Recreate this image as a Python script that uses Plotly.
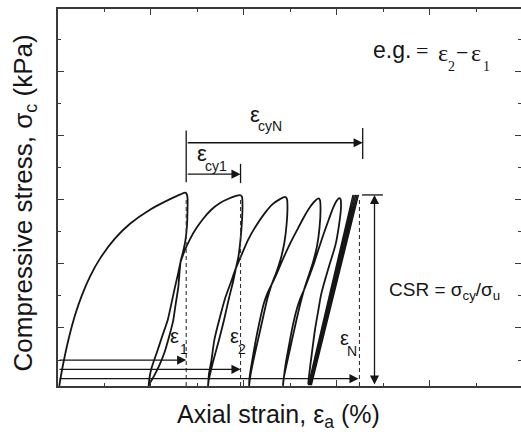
import plotly.graph_objects as go

# ---------------- cyclic test record (axial strain %, compressive stress kPa) ----------------
load_strain = [0.014, 0.032, 0.057, 0.111, 0.183, 0.258, 0.344, 0.452, 0.614, 0.775, 0.990, 1.206, 1.320, 1.372]
load_stress = [0.0, 3.2, 7.1, 14.3, 22.1, 28.4, 34.2, 39.8, 46.1, 50.7, 55.1, 58.4, 59.9, 60.4]

unload1_strain = [1.388, 1.395, 1.394, 1.389, 1.372, 1.346, 1.319, 1.295, 1.265, 1.241, 1.195, 1.144, 1.087, 1.033, 0.996, 0.974]
unload1_stress = [59.8, 58.3, 55.0, 50.3, 45.6, 41.9, 38.7, 30.9, 25.3, 20.6, 15.3, 10.3, 6.2, 3.1, 1.2, 0.0]
reload1_strain = [0.985, 1.001, 1.028, 1.062, 1.119, 1.181, 1.222, 1.259, 1.292, 1.319, 1.367, 1.421, 1.485, 1.561, 1.647, 1.744, 1.841, 1.916, 1.964]
reload1_stress = [2.5, 5.0, 7.5, 10.3, 15.3, 20.6, 25.9, 30.9, 35.0, 38.7, 42.5, 45.9, 49.1, 52.2, 55.0, 57.2, 58.6, 59.4, 59.6]

unload2_strain = [1.981, 1.986, 1.981, 1.964, 1.943, 1.916, 1.884, 1.841, 1.787, 1.733, 1.679, 1.642, 1.623, 1.615]
unload2_stress = [59.1, 56.6, 51.9, 45.6, 40.6, 36.9, 32.5, 27.5, 20.6, 14.4, 8.7, 4.4, 1.9, 0.0]
reload2_strain = [1.625, 1.652, 1.683, 1.735, 1.800, 1.862, 1.916, 1.970, 2.045, 2.131, 2.228, 2.314, 2.390, 2.443]
reload2_stress = [3.7, 8.1, 14.4, 20.6, 27.5, 32.5, 36.9, 40.6, 45.6, 50.0, 54.1, 56.9, 58.4, 59.1]

unload3_strain = [2.465, 2.470, 2.460, 2.438, 2.400, 2.352, 2.298, 2.250, 2.201, 2.153, 2.104, 2.072, 2.056]
unload3_stress = [58.4, 55.6, 50.3, 45.0, 40.0, 35.6, 31.6, 26.9, 20.6, 14.4, 8.1, 3.4, 0.0]
reload3_strain = [2.064, 2.088, 2.125, 2.169, 2.217, 2.256, 2.298, 2.357, 2.422, 2.497, 2.573, 2.648, 2.713, 2.766, 2.804]
reload3_stress = [3.1, 7.5, 13.7, 20.0, 25.9, 29.1, 31.6, 35.3, 39.7, 44.4, 48.7, 52.8, 55.9, 57.8, 58.6]

unload4_strain = [2.820, 2.826, 2.815, 2.788, 2.745, 2.697, 2.648, 2.605, 2.562, 2.519, 2.476, 2.443, 2.427, 2.422]
unload4_stress = [58.1, 55.0, 49.4, 43.7, 38.7, 34.4, 30.0, 25.3, 20.0, 14.4, 8.7, 4.4, 1.9, 0.3]
reload4_strain = [2.433, 2.454, 2.487, 2.524, 2.567, 2.610, 2.648, 2.702, 2.756, 2.809, 2.863, 2.917, 2.960, 2.998, 3.025]
reload4_stress = [3.1, 7.5, 12.8, 18.4, 23.7, 27.5, 30.0, 34.1, 38.4, 43.1, 47.8, 52.2, 55.6, 57.8, 58.7]

unload5_strain = [3.041, 3.046, 3.025, 2.987, 2.928, 2.874, 2.831, 2.799, 2.766, 2.740, 2.718, 2.702, 2.694]
unload5_stress = [58.4, 55.6, 50.3, 44.1, 38.4, 33.1, 28.4, 23.1, 17.5, 11.9, 6.9, 3.1, 0.6]

# later cycles: turning points only (valley -> peak -> next valley)
bundle_valley_strain = [2.694, 2.701, 2.708, 2.715, 2.722, 2.728]
bundle_peak_strain = [3.175, 3.190, 3.205, 3.220, 3.235]
bundle_valley_stress = 0.3
bundle_peak_stress = 59.7

# characteristic strains and the cyclic stress level
eps_1 = 1.38
eps_2 = 1.965
eps_N = 3.245
eps_cyN_end = 3.28
sigma_cy = 59.7

INK = "#151515"
AXIS = "#3a3a3a"
SANS = "Liberation Sans, Arial, sans-serif"
SERIF = "Liberation Serif, Times New Roman, serif"

record_strain = (load_strain + unload1_strain + reload1_strain + unload2_strain + reload2_strain
                 + unload3_strain + reload3_strain + unload4_strain + reload4_strain + unload5_strain)
record_stress = (load_stress + unload1_stress + reload1_stress + unload2_stress + reload2_stress
                 + unload3_stress + reload3_stress + unload4_stress + reload4_stress + unload5_stress)

bundle_strain, bundle_stress = [], []
for i, peak in enumerate(bundle_peak_strain):
    bundle_strain += [bundle_valley_strain[i], peak]
    bundle_stress += [bundle_valley_stress, bundle_peak_stress]
bundle_strain.append(bundle_valley_strain[-1])
bundle_stress.append(bundle_valley_stress)

fig = go.Figure()
fig.add_trace(go.Scatter(x=record_strain, y=record_stress, mode="lines",
                         line=dict(color=INK, width=1.8, shape="spline", smoothing=0.6),
                         showlegend=False, hoverinfo="skip"))
fig.add_trace(go.Scatter(x=bundle_strain, y=bundle_stress, mode="lines",
                         line=dict(color=INK, width=1.25),
                         showlegend=False, hoverinfo="skip"))
# companion axis for the right-hand ticks
fig.add_trace(go.Scatter(x=[None], y=[None], yaxis="y2", showlegend=False, hoverinfo="skip"))

shapes = []
# dashed guides at the characteristic strains
for e in (eps_1, eps_2, eps_N):
    shapes.append(dict(type="line", xref="x", yref="y", x0=e, x1=e, y0=0, y1=sigma_cy - 0.8,
                       line=dict(color="#333333", width=1.1, dash="4px,3px")))
# end bars of the cyclic strain dimensions
shapes.append(dict(type="line", xref="x", yref="y", x0=eps_1, x1=eps_1, y0=63.7, y1=79.8,
                   line=dict(color=INK, width=1.3)))
shapes.append(dict(type="line", xref="x", yref="y", x0=eps_2, x1=eps_2, y0=63.4, y1=69.4,
                   line=dict(color=INK, width=1.3)))
shapes.append(dict(type="line", xref="x", yref="y", x0=eps_cyN_end, x1=eps_cyN_end, y0=70.9, y1=80.6,
                   line=dict(color=INK, width=1.3)))
# cap of the cyclic stress dimension
shapes.append(dict(type="line", xref="x", yref="y", x0=3.272, x1=3.498, y0=sigma_cy, y1=sigma_cy,
                   line=dict(color=INK, width=1.3)))

annotations = []


def arrow(x_tip, y_tip, x_tail, y_tail, side="end"):
    annotations.append(dict(x=x_tip, y=y_tip, ax=x_tail, ay=y_tail, xref="x", yref="y",
                            axref="x", ayref="y", text="", showarrow=True, arrowhead=2,
                            arrowsize=1.4, arrowwidth=1.3, arrowcolor=INK, standoff=0,
                            startstandoff=0, arrowside=side, startarrowhead=2, startarrowsize=1.4))


def label(text, x, y, size, family=SANS, xanchor="center", angle=0, ref="x"):
    annotations.append(dict(x=x, y=y, xref=ref, yref=ref.replace("x", "y"), text=text,
                            showarrow=False, xanchor=xanchor, yanchor="middle", textangle=angle,
                            borderpad=0, font=dict(family=family, size=size, color=INK)))


# cyclic strain dimensions
arrow(eps_2, 66.2, eps_1, 66.2)
arrow(eps_cyN_end, 76.0, eps_1, 76.0)
# accumulated strains measured from the origin
arrow(eps_1, 8.1, 0, 8.1)
arrow(eps_2, 5.2, 0, 5.2)
arrow(eps_N - 0.01, 2.3, 0, 2.3)
# cyclic stress amplitude
arrow(3.407, sigma_cy, 3.407, 0, side="end+start")

label("ε", 1.550, 72.8, 22)
label("cy1", 1.701, 68.6, 14)
label("ε", 2.121, 84.8, 22)
label("cyN", 2.282, 81.1, 14)
label("ε", 1.259, 15.6, 20)
label("1", 1.356, 11.7, 14)
label("ε", 1.905, 15.6, 20)
label("2", 1.986, 11.7, 14)
label("ε", 3.079, 15.0, 20)
label("N", 3.160, 10.8, 14)

label("e.g.", 3.592, 104.9, 23)
label("=", 3.915, 104.8, 22, SERIF)
label("ε", 4.139, 104.1, 24, SERIF)
label("2", 4.236, 99.8, 14, SERIF)
label("−", 4.346, 104.1, 22, SERIF)
label("ε", 4.499, 104.1, 24, SERIF)
label("1", 4.615, 99.8, 14, SERIF)

label("CSR = σ<sub>cy</sub>/σ<sub>u</sub>", 3.552, 29.8, 19, xanchor="left")

label("Axial strain, ε<sub>a</sub> (%)", 0.4773, -0.080, 25, ref="paper")
label("Compressive stress, σ<sub>c</sub> (kPa)", -0.073, 0.4846, 26, angle=-90, ref="paper")

x_range = [0, 4.984]
y_range = [0, 117.8]
tick_common = dict(showgrid=False, zeroline=False, showticklabels=False, ticks="inside",
                   ticklen=6, tickwidth=1.2, tickcolor=AXIS)
minor_y = dict(ticks="inside", ticklen=3, tickwidth=1.2, tickcolor=AXIS, dtick=10, tick0=8.125)

fig.update_layout(
    width=521, height=432,
    margin=dict(l=58, r=0, t=9, b=46, pad=0),
    paper_bgcolor="white", plot_bgcolor="white",
    xaxis=dict(range=x_range, showline=True, linecolor=AXIS, linewidth=2, mirror="ticks",
               tick0=0, dtick=1,
               minor=dict(ticks="inside", ticklen=3, tickwidth=1.2, tickcolor=AXIS, dtick=0.5, tick0=0),
               **tick_common),
    yaxis=dict(range=y_range, showline=True, linecolor=AXIS, linewidth=2, mirror=False,
               tick0=18.125, dtick=20, minor=minor_y, **tick_common),
    yaxis2=dict(range=y_range, overlaying="y", side="right", showline=False,
                tick0=18.125, dtick=20, minor=minor_y, **tick_common),
    shapes=shapes,
    annotations=annotations,
)

fig.write_html("out.html", config={"displayModeBar": False})
